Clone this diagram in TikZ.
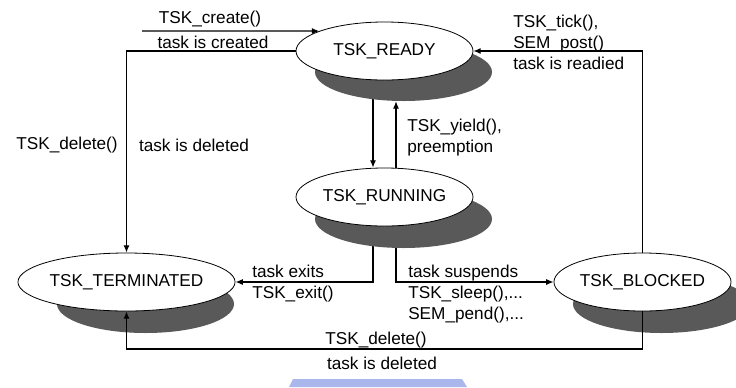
\documentclass[tikz,border=0pt]{standalone}
\usepackage{fontspec}
\setmainfont{Liberation Sans}
\usetikzlibrary{shapes.geometric,arrows.meta,backgrounds}
\pgfdeclarelayer{paper}
\pgfsetlayers{paper,background,main}
\definecolor{shadegray}{HTML}{595959}
\definecolor{markblue}{HTML}{AAB7EC}
\begin{document}
\begin{tikzpicture}[x=0.75pt,y=-0.75pt,
  every node/.style={font=\fontsize{12.9}{15.8}\selectfont},
  state/.style={ellipse,draw=black,line width=0.6pt,fill=white,inner sep=0pt,
    minimum width=132.75pt,minimum height=43.5pt},
  statesh/.style={ellipse,fill=shadegray,inner sep=0pt,
    minimum width=132.75pt,minimum height=43.5pt},
  lbl/.style={inner sep=0pt,align=left},
  wire/.style={line width=0.85pt,-{Latex[length=5.5pt,width=4.5pt]}}]
\useasboundingbox (0,0) rectangle (736,387);
\begin{pgfonlayer}{paper}
  \fill[white] (0,0) rectangle (736,387);
  % faint watermark strip along the lower edge
  \fill[markblue] (293,379) -- (462,379) -- (467,387) -- (289,387) -- cycle;
\end{pgfonlayer}

% state shadows
\node[statesh] (readysh)   at (403.5,72)  {};
\node[statesh] (runningsh) at (403.5,219) {};
\node[statesh] (termsh)    at (145.5,304) {};
\node[statesh] (blockedsh) at (661.5,304) {};
% states
\node[state] (ready)   at (384.5,51)  {TSK\_READY};
\node[state] (running) at (384.5,197) {TSK\_RUNNING};
\node[state] (term)    at (126.5,282) {TSK\_TERMINATED};
\node[state] (blocked) at (642.5,282) {TSK\_BLOCKED};

% helper lanes
\coordinate (lanel) at (373,0);
\coordinate (laner) at (396,0);
\coordinate (floor) at (0,349);
\coordinate (cs) at (142,31);

% transitions passing behind the shadows
\begin{scope}[on background layer]
  \draw[wire] (readysh.center -| lanel) -- (running.north -| lanel);
  \draw[wire] (runningsh.center -| lanel) |- (term.east);
  \draw[wire] (runningsh.center -| laner) |- (blocked.west);
\end{scope}
% transitions drawn on top
\draw[wire] (cs) -- (ready.163);
\draw[wire] (ready.west) -| (term.north);
\draw[wire] (running.north -| laner) -- (readysh.south -| laner);
\draw[wire] (blocked.north) |- (ready.east);
\draw[wire] (blocked.south) -- (blocked.south |- floor) -| (term.south);

% labels
\node[lbl] (l1) at (210,19) {TSK\_create()};
\node[lbl] (l2) at (213,42) {task is created};
\node[lbl] (l3) at (67,145) {TSK\_delete()};
\node[lbl] (l4) at (194,145) {task is deleted};
\node[lbl,anchor=west] (l5) at (407,138) {TSK\_yield(),\\preemption};
\node[lbl,anchor=west] (l6) at (513,42) {TSK\_tick(),\\SEM\_post()\\task is readied};
\node[lbl,anchor=west] (l7) at (252,284) {task exits\\TSK\_exit()};
\node[lbl,anchor=west] (l8) at (408,294) {task suspends\\TSK\_sleep(),...\\SEM\_pend(),...};
\node[lbl] (l9) at (376,340) {TSK\_delete()};
\node[lbl] (l10) at (382,363) {task is deleted};
\end{tikzpicture}
\end{document}
